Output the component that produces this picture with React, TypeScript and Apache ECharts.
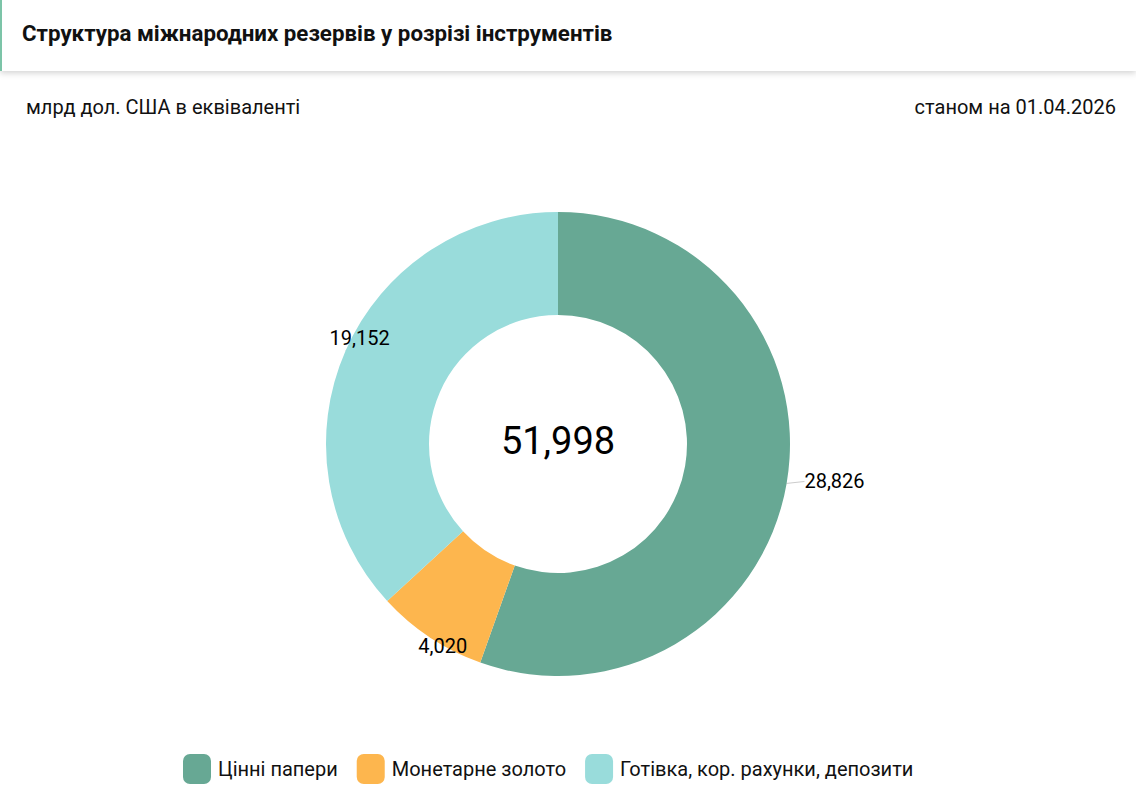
import React, { useEffect, useRef } from 'react'
import * as echarts from 'echarts'

const categories = ['Цінні папери', 'Монетарне золото', 'Готівка, кор. рахунки, депозити']
const values = [28.826, 4.02, 19.152]
const colors = ['#67A894', '#FDB64E', '#99DCDB']
const totalValue = 51.998

const titleText = 'Структура міжнародних резервів у розрізі інструментів'
const unitText = 'млрд дол. США в еквіваленті'
const dateText = 'станом на 01.04.2026'

const fmt = (v: number) => v.toFixed(3).replace('.', ',')

const CX = 558
const CY = 444

const App: React.FC = () => {
  const chartRef = useRef<HTMLDivElement>(null)

  useEffect(() => {
    if (!chartRef.current) return
    const chart = echarts.init(chartRef.current, undefined, { renderer: 'svg' })

    const option: echarts.EChartsOption = {
      animation: false,
      color: colors,
      textStyle: { fontFamily: 'Roboto' },
      graphic: [
        {
          type: 'rect',
          shape: { x: 0, y: 0, width: 1136, height: 71 },
          style: {
            fill: '#fff',
            shadowBlur: 6,
            shadowOffsetY: 2,
            shadowColor: 'rgba(0,0,0,0.18)'
          },
          z: 1
        },
        {
          type: 'rect',
          shape: { x: 0, y: 0, width: 2, height: 71 },
          style: { fill: '#7cc4a8' },
          z: 2
        },
        {
          type: 'text',
          x: 22,
          y: 33,
          style: {
            text: titleText,
            fontFamily: 'Roboto',
            fontWeight: 'bold',
            fontSize: 22.3,
            fill: '#111',
            textVerticalAlign: 'middle'
          },
          z: 2
        },
        {
          type: 'text',
          x: 26,
          y: 107,
          style: {
            text: unitText,
            fontFamily: 'Roboto',
            fontSize: 20,
            fill: '#111',
            textVerticalAlign: 'middle'
          }
        },
        {
          type: 'text',
          x: 1116,
          y: 107,
          style: {
            text: dateText,
            fontFamily: 'Roboto',
            fontSize: 20,
            fill: '#111',
            textAlign: 'right',
            textVerticalAlign: 'middle'
          }
        },
        {
          type: 'text',
          x: CX,
          y: 441,
          style: {
            text: fmt(totalValue),
            fontFamily: 'Roboto',
            fontSize: 38,
            fill: '#000',
            textAlign: 'center',
            textVerticalAlign: 'middle'
          }
        }
      ],
      legend: {
        left: 183,
        top: 754,
        padding: 0,
        itemWidth: 28,
        itemHeight: 30,
        itemGap: 19,
        icon: 'roundRect',
        textStyle: { fontSize: 20, color: '#111', fontFamily: 'Roboto', padding: [0, 0, 0, 2] },
        data: categories
      },
      series: [
        {
          type: 'pie',
          center: [CX, CY],
          radius: [129, 232],
          startAngle: 90,
          clockwise: true,
          avoidLabelOverlap: false,
          label: {
            show: true,
            position: 'outside',
            fontSize: 20,
            color: '#000',
            fontFamily: 'Roboto',
            formatter: (p: any) => fmt(p.value)
          },
          labelLine: {
            show: true,
            length: 12,
            length2: 0,
            lineStyle: { color: '#ccc', width: 1 }
          },
          labelLayout: (params: any) => {
            const pts = params.labelLinePoints
            if (!pts) return {}
            const end = pts[pts.length - 1]
            const left = end[0] < CX
            return {
              x: left ? end[0] - 5 : end[0] + 6,
              y: end[1] + (left ? (end[1] < CY ? -8 : -1) : -4),
              align: 'left',
              verticalAlign: 'middle'
            }
          },
          emphasis: { disabled: true },
          data: categories.map((name, i) => ({ name, value: values[i] }))
        }
      ]
    }

    chart.setOption(option)
    return () => chart.dispose()
  }, [])

  return (
    <div
      ref={chartRef}
      style={{ position: 'fixed', left: 0, top: 0, width: 1136, height: 811, background: '#fff' }}
    />
  )
}

export default App
